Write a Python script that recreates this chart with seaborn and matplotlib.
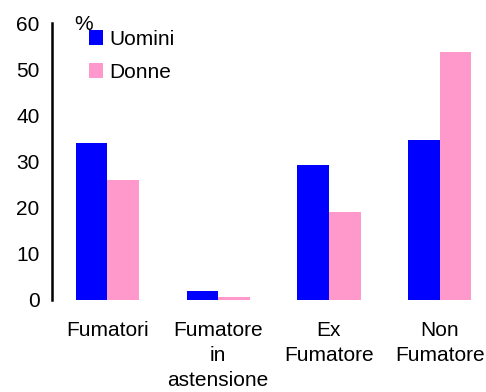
import matplotlib
matplotlib.use("Agg")
import matplotlib.pyplot as plt
import seaborn as sns
import pandas as pd

categories = ["Fumatori", "Fumatore\nin\nastensione", "Ex\nFumatore", "Non\nFumatore"]
uomini = [34.0, 1.9, 29.2, 34.6]
donne = [26.0, 0.7, 19.0, 53.8]
series = ["Uomini", "Donne"]
colors = ["#0000FF", "#FF99CC"]

df = pd.DataFrame({
    "cat": categories * 2,
    "val": uomini + donne,
    "sex": [series[0]] * 4 + [series[1]] * 4,
})

sns.set_style("white")
plt.rcParams["font.family"] = ["Liberation Sans", "DejaVu Sans"]
plt.rcParams["text.color"] = "black"
plt.rcParams["xtick.color"] = "black"
plt.rcParams["ytick.color"] = "black"

FS = 15

fig = plt.figure(figsize=(4.86, 3.92), dpi=100)
ax = fig.add_axes([0.107, 0.2347, 0.893, 0.7066])
sns.barplot(data=df, x="cat", y="val", hue="sex", order=categories,
            hue_order=series, palette=colors, width=0.57, saturation=1,
            linewidth=0, ax=ax, legend=True)
ax.set_ylim(0, 60)
ax.set_xlim(-0.5, 3.417)
ax.set_yticks(range(0, 61, 10))
ax.tick_params(axis="y", direction="out", length=6, width=1.8, labelsize=FS, pad=3,
               color="black", labelcolor="black")
ax.tick_params(axis="x", length=0, labelsize=FS, pad=15, labelcolor="black")
for lab in ax.get_xticklabels():
    lab.set_linespacing(1.4)
for s in ["top", "right", "bottom"]:
    ax.spines[s].set_visible(False)
ax.spines["left"].set_linewidth(1.8)
ax.spines["left"].set_color("black")
ax.set_xlabel("")
ax.set_ylabel("")
ax.text(0.052, 1.03, "%", transform=ax.transAxes, fontsize=FS, ha="left", va="top")
leg = ax.legend(loc="upper left", bbox_to_anchor=(0.065, 1.005), frameon=False,
                fontsize=FS, handlelength=0.7, handleheight=0.7, handletextpad=0.3,
                labelspacing=0.65, borderaxespad=0)
fig.savefig("out.png", dpi=100)
